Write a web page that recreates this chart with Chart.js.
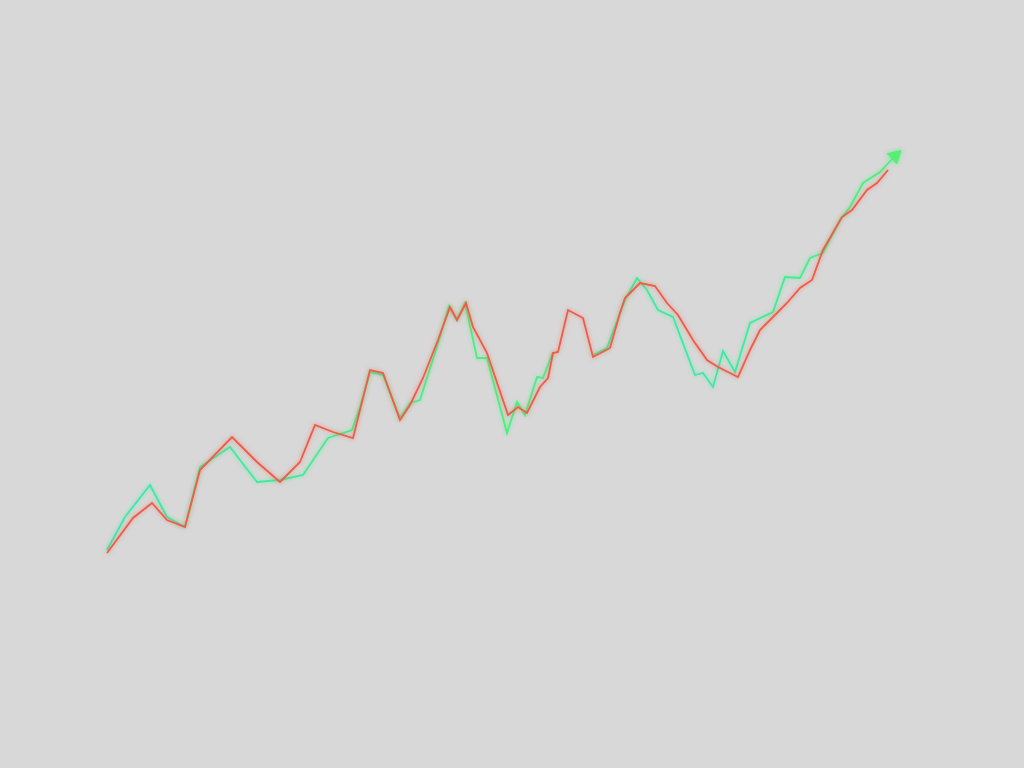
<!DOCTYPE html>
<html>
<head>
<meta charset="utf-8">
<script src="https://cdn.jsdelivr.net/npm/chart.js@4"></script>
<style>
html,body{margin:0;padding:0;background:#d8d8d8;}
#wrap{width:1024px;height:768px;position:relative;}
</style>
</head>
<body>
<div id="wrap"><canvas id="c" width="1024" height="768"></canvas></div>
<script>
// Series A (red) — time positions and values
const redT = [107,133,152,167,185,200,232,257,280,300,315,333,353,360,370,383,400,410,423,438,450,457,466,473,487,508,518,527,540,548,553,558,568,583,593,610,620,625,640,655,667,678,693,707,718,738,750,760,773,787,800,812,823,842,852,867,877,888];
const redV = [215,250,265,248,241,298,331,306,286,306,343,336,330,358,398,395,348,363,390,428,461,448,465,441,415,353,361,355,381,390,415,416,458,450,411,420,455,470,485,482,465,453,428,408,401,391,418,438,451,465,480,488,518,551,558,578,585,598];
// Series B (green) — null marks a break in the series
const greenT = [107,125,150,167,185,200,230,257,280,303,328,352,360,370,383,400,410,420,440,449,457,465,477,487,507,517,525,537,543,553,573,593,607,620,625,637,647,658,673,695,703,713,723,735,750,773,785,800,810,823,840,850,863,880,895];
const greenV = [218,251,283,251,241,301,321,286,288,293,330,338,361,396,393,350,365,368,431,462,448,465,410,410,335,366,353,391,390,416,null,413,420,455,468,490,478,458,451,393,395,381,417,396,445,456,491,490,510,515,548,561,585,596,612];

const redData = redT.map((t,i)=>({x:t,y:redV[i]}));
const greenData = greenT.map((t,i)=>({x:t,y:greenV[i]}));
const nG = greenData.length;

const ctx = document.getElementById('c').getContext('2d');
const gGrad = ctx.createLinearGradient(100,0,900,0);
gGrad.addColorStop(0,'#3fe6b6');
gGrad.addColorStop(0.35,'#4aec8a');
gGrad.addColorStop(0.5,'#52ee78');
gGrad.addColorStop(0.75,'#3ee6b0');
gGrad.addColorStop(1,'#55f070');

const glow = {
  id:'glow',
  beforeDatasetDraw(chart,args){
    const c = chart.ctx; c.save();
    c.shadowColor = args.index===0 ? 'rgba(240,96,74,0.6)' : 'rgba(80,240,150,0.7)';
    c.shadowBlur = 4;
  },
  afterDatasetDraw(chart){ chart.ctx.restore(); }
};
const bg = {
  id:'bg',
  beforeDraw(chart){ const c=chart.ctx; c.save(); c.fillStyle='#d8d8d8'; c.fillRect(0,0,chart.width,chart.height); c.restore(); }
};

new Chart(ctx,{
  type:'scatter',
  data:{datasets:[
    {data:redData,showLine:true,borderColor:'#ef5c48',borderWidth:1.8,pointRadius:0,tension:0,fill:false},
    {data:greenData,showLine:true,spanGaps:false,borderColor:gGrad,borderWidth:1.8,tension:0,fill:false,
     pointRadius:greenData.map((d,i)=>i===nG-1?8:0),
     pointStyle:'triangle',
     rotation:greenData.map((d,i)=>i===nG-1?47:0),
     pointBackgroundColor:'#55f070',pointBorderColor:'#55f070',pointBorderWidth:1}
  ]},
  options:{
    responsive:false,animation:false,
    layout:{padding:0,autoPadding:false},
    plugins:{legend:{display:false},tooltip:{enabled:false}},
    scales:{
      x:{type:'linear',min:0,max:1024,display:false},
      y:{type:'linear',min:0,max:768,display:false}
    }
  },
  plugins:[bg,glow]
});
</script>
</body>
</html>
